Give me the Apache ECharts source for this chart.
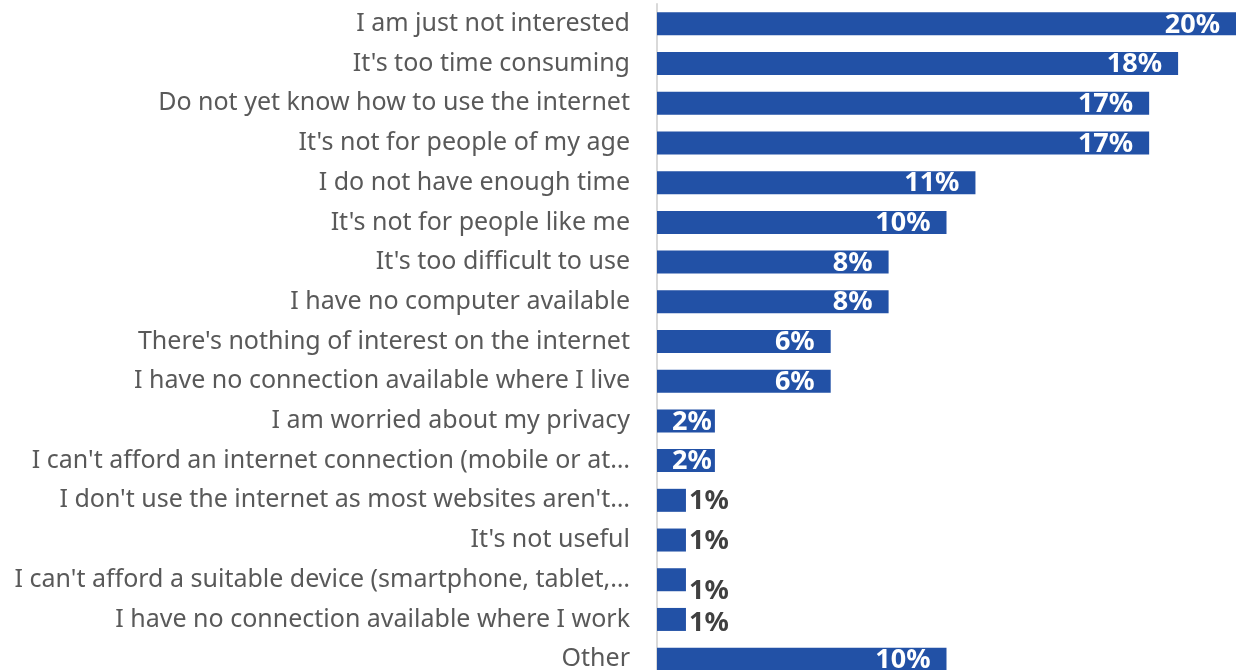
<!DOCTYPE html>
<html>
<head>
<meta charset="utf-8">
<style>
  html, body { margin: 0; padding: 0; background: #ffffff; }
  #chart { width: 1251px; height: 670px; }
</style>
<script src="https://cdn.jsdelivr.net/npm/echarts@6/dist/echarts.min.js"></script>
</head>
<body>
<div id="chart"></div>
<script>
// Reasons given for not using the internet (% of respondents)
const categories = [
  "I am just not interested",
  "It's too time consuming",
  "Do not yet know how to use the internet",
  "It's not for people of my age",
  "I do not have enough time",
  "It's not for people like me",
  "It's too difficult to use",
  "I have no computer available",
  "There's nothing of interest on the internet",
  "I have no connection available where I live",
  "I am worried about my privacy",
  "I can't afford an internet connection (mobile or at…",
  "I don't use the internet as most websites aren't…",
  "It's not useful",
  "I can't afford a suitable device (smartphone, tablet,…",
  "I have no connection available where I work",
  "Other"
];
const values = [20, 18, 17, 17, 11, 10, 8, 8, 6, 6, 2, 2, 1, 1, 1, 1, 10];

const BAR = '#2251a6';

// Small bars get their label outside the bar; narrow ones keep it tight to the end.
function labelFor(v, i) {
  if (v < 2) {
    let dy = 1;
    if (i === 14) dy = 12;
    if (i === 15) dy = 4;
    return { position: 'right', color: '#404040', distance: 3, offset: [0, dy] };
  }
  if (v < 3) {
    return { position: 'insideRight', color: '#ffffff', distance: 3, offset: [0, 1] };
  }
  return { position: 'insideRight', color: '#ffffff', distance: 16, offset: [0, 1] };
}

const seriesData = values.map((v, i) => ({ value: v, label: labelFor(v, i) }));

const chart = echarts.init(document.getElementById('chart'), null, { renderer: 'canvas' });
chart.setOption({
  animation: false,
  backgroundColor: '#ffffff',
  grid: {
    left: 657,
    right: 15,
    top: 4,
    bottom: -9,
    containLabel: false,
    outerBoundsMode: 'none'
  },
  xAxis: {
    type: 'value',
    min: 0,
    max: 20,
    show: false
  },
  yAxis: {
    type: 'category',
    data: categories,
    inverse: true,
    axisLine: { show: true, lineStyle: { color: '#d9d9d9', width: 2 } },
    axisTick: { show: false },
    axisLabel: {
      margin: 27,
      fontSize: 25,
      fontFamily: 'Noto Sans',
      color: '#595959'
    }
  },
  series: [{
    type: 'bar',
    data: seriesData,
    barWidth: 23,
    itemStyle: { color: BAR },
    label: {
      show: true,
      formatter: p => p.value + '%',
      fontSize: 27,
      fontWeight: 'bold',
      fontFamily: 'Noto Sans'
    }
  }]
});
</script>
</body>
</html>
